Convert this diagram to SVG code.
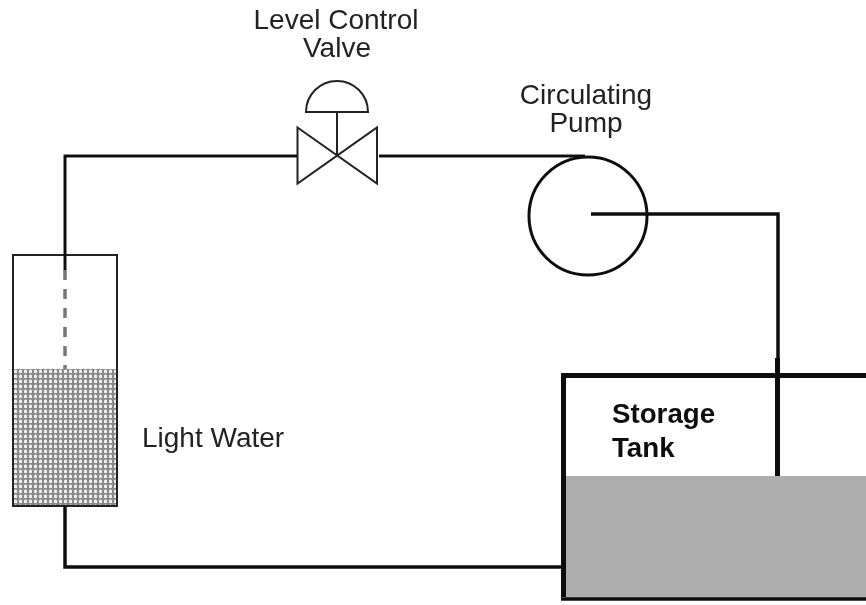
<svg xmlns="http://www.w3.org/2000/svg" width="866" height="605" viewBox="0 0 866 605">
<defs>
<pattern id="dots" width="5" height="5" patternUnits="userSpaceOnUse" x="13" y="369">
<rect width="5" height="5" fill="#8a8a8a"/>
<rect x="1" y="1" width="3" height="3" fill="#ececec"/>
<rect x="2" y="0" width="1" height="1" fill="#c4c4c4"/>
</pattern>
<filter id="soft" filterUnits="userSpaceOnUse" x="0" y="0" width="866" height="605"><feGaussianBlur stdDeviation="0.45"/></filter>
</defs>
<style>
.t{font-family:"Liberation Sans",Arial,sans-serif;font-size:28px;fill:#222;text-anchor:middle}
.b{font-family:"Liberation Sans",Arial,sans-serif;font-size:27.700px;font-weight:bold;fill:#111}
.p{fill:none;stroke:#111;stroke-width:3}
.s{fill:#fff;stroke:#222;stroke-width:2}
</style>
<rect width="866" height="605" fill="#fff"/>
<g filter="url(#soft)">
<g id="tank-left">
<rect x="13" y="369" width="104" height="137" fill="url(#dots)"/>
<rect x="13" y="255" width="104" height="251" fill="none" stroke="#222" stroke-width="2"/>
</g>
<g id="connectors">
<path class="p" d="M65 270V156H297"/>
<path d="M65 270V369" fill="none" stroke="#777" stroke-width="3.500" stroke-dasharray="10,9"/>
<path class="p" d="M379 156H585"/>
<path class="p" d="M591 214H778V358" style="stroke-width:3.500"/>
<path class="p" d="M65 506V567H562" style="stroke-width:3.500"/>
</g>
<g id="valve">
<path class="s" d="M297.500 127.500L377 183.500V127.500L297.500 183.500Z"/>
<path class="s" d="M337 112V155"/>
<path class="s" d="M306 112A31 31 0 0 1 368 112Z"/>
</g>
<g id="pump">
<circle cx="588" cy="216" r="59" fill="none" stroke="#111" stroke-width="3"/>
</g>
<g id="storage-tank">
<rect x="566" y="476" width="300" height="122" fill="#aeaeae"/>
<path d="M866 375.500H563.500V597" fill="none" stroke="#111" stroke-width="5"/>
<path d="M866 599H561" fill="none" stroke="#111" stroke-width="3.500"/>
<path d="M777.500 358V476" fill="none" stroke="#111" stroke-width="5"/>
<text class="b" x="612" y="423">Storage</text>
<text class="b" x="612" y="457">Tank</text>
</g>
<g id="labels">
<text class="t" x="336" y="29">Level Control</text>
<text class="t" x="337" y="57">Valve</text>
<text class="t" x="586" y="104">Circulating</text>
<text class="t" x="586" y="132">Pump</text>
<text class="t" x="142" y="447" style="text-anchor:start">Light Water</text>
</g>
</g>
</svg>
